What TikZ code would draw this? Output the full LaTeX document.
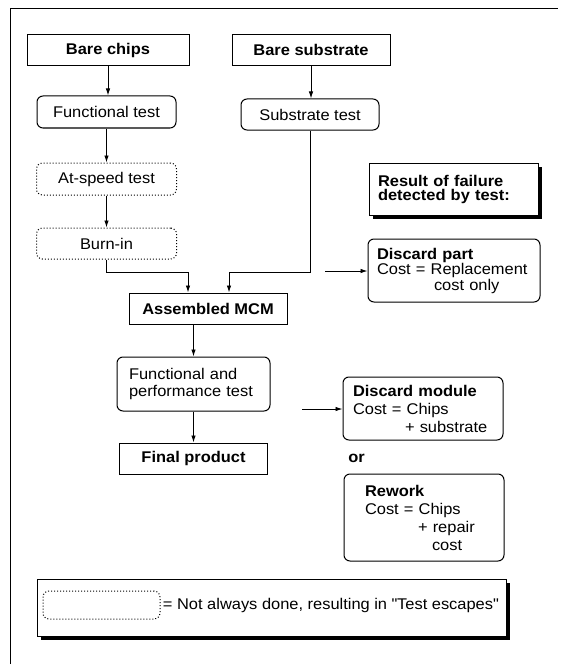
\documentclass[tikz,border=0pt]{standalone}
\usepackage{fontspec}
\setmainfont{Liberation Sans}[FakeStretch=1.06]
\usetikzlibrary{positioning}
\usetikzlibrary{arrows.meta}
\usetikzlibrary{shadows}
\tikzset{box/.style={draw,line width=1pt,inner sep=0pt,fill=white,minimum height=31pt}}
\tikzset{block/.style={box,font=\fontsize{15.5}{18}\selectfont\bfseries}}
\tikzset{test/.style={box,rounded corners=6pt}}
\tikzset{opt/.style={test,dotted}}
\tikzset{note/.style={box,rounded corners=6pt,align=left}}
\tikzset{shade/.style={drop shadow={shadow xshift=4pt,shadow yshift=-4pt,opacity=1,fill=black}}}
\tikzset{>={Latex[length=7pt,width=4.5pt]}}
\hyphenpenalty=10000

\begin{document}
\begin{tikzpicture}[x=1pt,y=-1pt,font=\fontsize{15.5}{18}\selectfont,line width=0.9pt]
\useasboundingbox (0,0) rectangle (562,666);
\draw (10,664) -- (10,8) -- (558,8);

\begin{scope}[on grid]

\node[block,minimum width=162pt] at (108,50) (chips) {Bare chips};
\node[block,minimum width=158pt] at (311,50) (substr) {Bare substrate};
\node[test,minimum width=139pt,minimum height=32pt] at (106.5,112) (ftest) {Functional test};
\node[test,minimum width=138pt] at (310,114.5) (stest) {Substrate test};
\node[opt,minimum width=140pt,minimum height=32pt,below=67pt of ftest] (speed) {At-speed test};
\node[opt,minimum width=140pt,below=64.5pt of speed] (burn) {Burn-in};
\node[block,minimum width=158pt] at (208,308.5) (mcm) {Assembled MCM};
\node[note,text width=129pt,inner xsep=12pt,minimum height=54pt,
  font=\fontsize{15.5}{17}\selectfont] at (193.5,384) (fpt) {Functional and\\performance test};
\node[block,minimum width=148pt,below=74.5pt of fpt] (final) {Final product};

\node[box,shade,align=left,text width=151pt,inner xsep=9pt,minimum height=52pt,
  font=\fontsize{15.5}{14}\selectfont\bfseries] at (453.5,189) (result) {Result of failure\\detected by test:};
\node[note,text width=154pt,inner xsep=9pt,minimum height=63pt,
  font=\fontsize{15.5}{15.5}\selectfont] at (454,270.5) (dpart)
  {{\bfseries Discard part}\\Cost = Replacement\\\hspace*{57pt}cost only};
\node[note,text width=140pt,inner xsep=10pt,minimum height=63pt] at (423,408.5) (dmod)
  {{\bfseries Discard module}\\Cost = Chips\\\hspace*{52pt}+ substrate};
\node[anchor=west,inner sep=0pt,font=\fontsize{15.5}{18}\selectfont\bfseries] at (348,458) (or) {or};
\node[note,text width=118pt,inner xsep=21pt,minimum height=87pt] at (424,517.5) (rework)
  {{\bfseries Rework}\\Cost = Chips\\\hspace*{53pt}+ repair\\\hspace*{67pt}cost};

\node[box,shade,minimum width=469pt,minimum height=57pt] at (271.5,607.5) (legend) {};
\node[opt,minimum width=117pt,minimum height=28pt] at (101.5,605) (key) {};
\node[anchor=west,inner sep=0pt,xshift=2pt] at (key.east) (keytext)
  {= Not always done, resulting in \textquotedbl Test escapes\textquotedbl};

\end{scope}

\coordinate (jl) at (188,272);
\coordinate (jr) at (229,272);
\coordinate (fa) at (325,271);
\coordinate (fb) at (302,409);

\draw[->] (chips) -- (chips |- ftest.north);
\draw[->] (ftest) -- (ftest |- speed.north);
\draw[->] (speed) -- (speed |- burn.north);
\draw[->] (substr) -- (substr |- stest.north);
\draw[->] (burn) |- (jl) -- (jl |- mcm.north);
\draw[->] (stest) |- (jr) -- (jr |- mcm.north);
\draw[->] (mcm.south -| fpt.north) -- (fpt.north);
\draw[->] (fpt) -- (fpt |- final.north);
\draw[->] (fa) -- (dpart.west |- fa);
\draw[->] (fb) -- (dmod.west |- fb);

\end{tikzpicture}
\end{document}
